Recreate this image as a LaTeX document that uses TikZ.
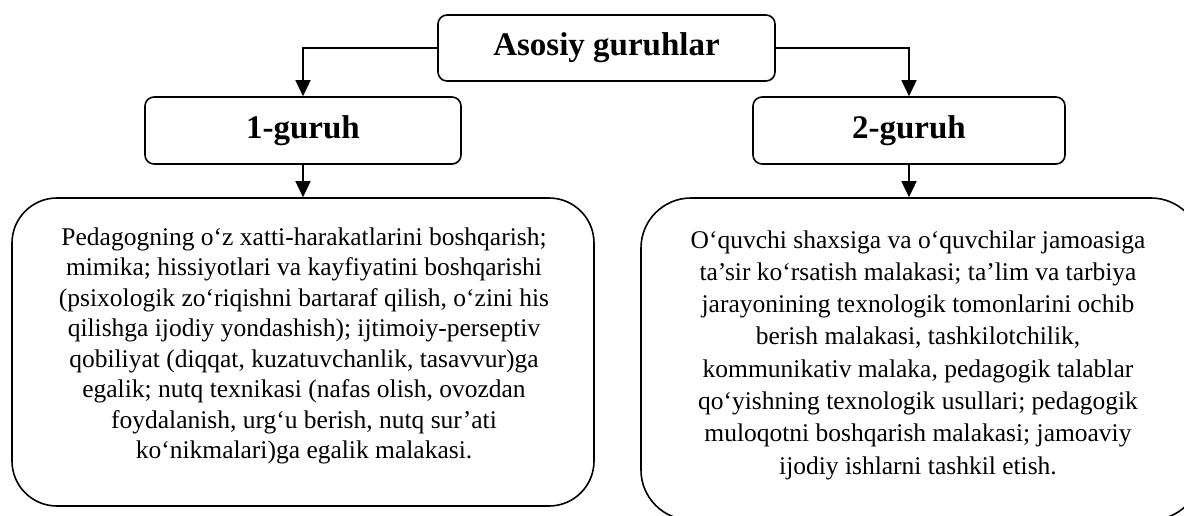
\documentclass[tikz,border=0pt]{standalone}
\usepackage{fontspec}
\setmainfont{Liberation Serif}
\usetikzlibrary{arrows.meta}
\begin{document}
\begin{tikzpicture}[x=1pt,y=-1pt,
  box/.style={draw,line width=1.6pt,rounded corners=9pt,font=\fontsize{33}{36}\selectfont\bfseries,inner sep=0pt},
  bigbox/.style={draw,line width=1.6pt,inner sep=0pt},
  body/.style={align=center,inner sep=0pt},
  arr/.style={line width=1.5pt,-{Triangle[length=16pt,width=15pt]}}]
\useasboundingbox (0,0) rectangle (1184,515);
\clip (0,0) rectangle (1184,515);
\node[box,minimum width=337pt,minimum height=66pt] (top) at (606.5,48) {Asosiy guruhlar};
\node[box,minimum width=316pt,minimum height=67pt] (g1) at (303,130.5) {1-guruh};
\node[box,minimum width=312pt,minimum height=67pt] (g2) at (909,130.5) {2-guruh};
\node[bigbox,rounded corners=45pt,minimum width=582pt,minimum height=308pt] (b1) at (303,352) {};
\node[bigbox,rounded corners=50pt,minimum width=560pt,minimum height=322pt] (b2) at (921,359) {};
\node[body,font=\fontsize{25.5}{30.5}\selectfont] (t1) at (304,346) {Pedagogning o‘z xatti-harakatlarini boshqarish;\\ mimika; hissiyotlari va kayfiyatini boshqarishi\\ (psixologik zo‘riqishni bartaraf qilish, o‘zini his\\ qilishga ijodiy yondashish); ijtimoiy-perseptiv\\ qobiliyat (diqqat, kuzatuvchanlik, tasavvur)ga\\ egalik; nutq texnikasi (nafas olish, ovozdan\\ foydalanish, urg‘u berish, nutq sur’ati\\ ko‘nikmalari)ga egalik malakasi.};
\node[body,font=\fontsize{25.5}{32.3}\selectfont] (t2) at (918,355) {O‘quvchi shaxsiga va o‘quvchilar jamoasiga\\ ta’sir ko‘rsatish malakasi; ta’lim va tarbiya\\ jarayonining texnologik tomonlarini ochib\\ berish malakasi, tashkilotchilik,\\ kommunikativ malaka, pedagogik talablar\\ qo‘yishning texnologik usullari; pedagogik\\ muloqotni boshqarish malakasi; jamoaviy\\ ijodiy ishlarni tashkil etish.};
\draw[arr] (top.west) -| (g1.north);
\draw[arr] (top.east) -| (g2.north);
\draw[arr] (g1.south) -- (b1.north);
\draw[arr] (g2.south) -- (g2.south |- b2.north);
\end{tikzpicture}
\end{document}
